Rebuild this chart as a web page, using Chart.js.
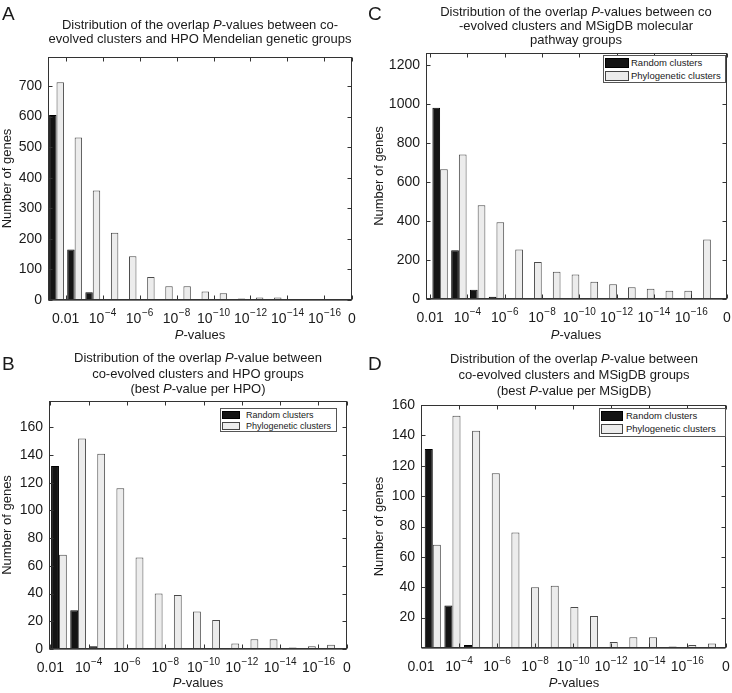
<!DOCTYPE html>
<html><head><meta charset="utf-8">
<script src="https://cdn.jsdelivr.net/npm/chart.js@4.4.1/dist/chart.umd.min.js"></script>
<style>
html,body{margin:0;padding:0;background:#fff;}
body{width:732px;height:693px;position:relative;overflow:hidden;font-family:"Liberation Sans",Arial,sans-serif;color:#1a1a1a;}
canvas{position:absolute;left:0;top:0;}
.t{position:absolute;text-align:center;font-size:13px;line-height:14.5px;white-space:nowrap;width:400px;}
.l{position:absolute;font-size:19px;line-height:19px;}
.xl{position:absolute;font-size:13px;line-height:16px;text-align:center;width:100px;}
.lg{position:absolute;border:1px solid #555;background:#fff;box-sizing:border-box;}
.lg .r{position:absolute;left:0;height:12px;line-height:12px;white-space:nowrap;}
.lg .sw{position:absolute;left:1px;box-sizing:border-box;border:1px solid #444;}
.lg .tx{position:absolute;top:0;}
</style>
</head><body>
<canvas id="cA" width="732" height="693"></canvas>
<canvas id="cB" width="732" height="693"></canvas>
<canvas id="cC" width="732" height="693"></canvas>
<canvas id="cD" width="732" height="693"></canvas>

<div class="l" style="left:2px;top:4px">A</div>
<div class="l" style="left:368px;top:4px">C</div>
<div class="l" style="left:2px;top:354px">B</div>
<div class="l" style="left:368px;top:354px">D</div>

<div class="t" style="left:0px;top:18px;line-height:14px">Distribution of the overlap <i>P</i>-values between co-<br>evolved clusters and HPO Mendelian genetic groups</div>
<div class="t" style="left:376px;top:5px;line-height:14px">Distribution of the overlap <i>P</i>-values between co<br>-evolved clusters and MSigDB molecular<br>pathway groups</div>
<div class="t" style="left:-2px;top:350px;line-height:15.5px">Distribution of the overlap <i>P</i>-value between<br>co-evolved clusters and HPO groups<br>(best <i>P</i>-value per HPO)</div>
<div class="t" style="left:374px;top:351px;line-height:16px">Distribution of the overlap <i>P</i>-value between<br>co-evolved clusters and MSigDB groups<br>(best <i>P</i>-value per MSigDB)</div>

<div class="xl" style="left:150px;top:327px"><i>P</i>-values</div>
<div class="xl" style="left:526px;top:327px"><i>P</i>-values</div>
<div class="xl" style="left:148px;top:675px"><i>P</i>-values</div>
<div class="xl" style="left:524px;top:675px"><i>P</i>-values</div>

<div id="legends"></div>

<script>
// ---- data ----
const seriesNames = ['Random clusters', 'Phylogenetic clusters'];
const tickBase = ['0.01','10','10','10','10','10','10','10','0'];
const tickExp  = ['','\u22124','\u22126','\u22128','\u221210','\u221212','\u221214','\u221216',''];

const binsA   = [0,1,2,3,4,5,6,7,8,9,10,11,12,13,14,15];
const randomA = [605,165,25,3,0,0,0,0,0,0,0,0,0,0,0,0];
const phyloA  = [712,532,358,220,143,75,45,45,28,22,5,8,8,0,3,3];

const binsB   = [0,1,2,3,4,5,6,7,8,9,10,11,12,13,14];
const randomB = [132,28,2,0,0,0,0,0,0,0,0,0,0,0,0];
const phyloB  = [68,152,141,116,66,40,39,27,21,4,7,7,1,2,3];

const binsC   = [0,1,2,3,4,5,6,7,8,9,10,11,12,13,14];
const randomC = [980,250,48,12,0,0,0,0,0,0,0,0,0,0,0];
const phyloC  = [665,740,480,393,253,190,140,125,88,75,60,52,42,42,305];

const binsD   = [0,1,2,3,4,5,6,7,8,9,10,11,12,13,14];
const randomD = [131,28,2,0,0,0,0,0,0,0,0,0,0,0,0];
const phyloD  = [68,153,143,115,76,40,41,27,21,4,7,7,1,2,3];

const yTicksA = [0,100,200,300,400,500,600,700];
const yTicksB = [0,20,40,60,80,100,120,140,160];
const yTicksC = [0,200,400,600,800,1000,1200];
const yTicksD = [20,40,60,80,100,120,140,160];

// ---- axis placement (scale config) ----
const xTickPosA = [0.5,2.54,4.58,6.62,8.66,10.7,12.74,14.78,16.3];
const xTickPosB = [-0.45,1.55,3.55,5.55,7.55,9.55,11.55,13.55,15.04];
const xTickPosC = [-0.53,1.455,3.44,5.425,7.41,9.395,11.38,13.365,15.27];
const xTickPosD = [-0.6,1.335,3.27,5.205,7.14,9.075,11.01,12.945,14.92];

const FONT = '"Liberation Sans", Arial, sans-serif';
const W = 732, H = 693, XH = 30;
const TXT = '#1a1a1a';

const boxPlugin = {
  id: 'box',
  afterDatasetsDraw(chart) {
    const {ctx, chartArea: a, scales: {x, y}} = chart;
    ctx.save();
    ctx.strokeStyle = '#333';
    ctx.lineWidth = 1;
    const l = Math.round(a.left) + 0.5, r = Math.round(a.right) - 0.5;
    const t = Math.round(a.top) + 0.5, b = Math.round(a.bottom) - 0.5;
    ctx.strokeRect(l, t, r - l, b - t);
    ctx.strokeStyle = '#777';
    ctx.beginPath();
    ctx.moveTo(l, b + 1); ctx.lineTo(r, b + 1);
    ctx.stroke();
    ctx.strokeStyle = '#333';
    const L = 4;
    ctx.beginPath();
    x.ticks.forEach(tk => {
      const px = Math.round(x.getPixelForValue(tk.value)) + 0.5;
      ctx.moveTo(px, b); ctx.lineTo(px, b - L);
      ctx.moveTo(px, t); ctx.lineTo(px, t + L);
    });
    y.ticks.forEach(tk => {
      const py = Math.round(y.getPixelForValue(tk.value)) + 0.5;
      ctx.moveTo(l, py); ctx.lineTo(l + L, py);
      ctx.moveTo(r, py); ctx.lineTo(r - L, py);
    });
    ctx.stroke();
    // x tick labels with real superscripts
    ctx.fillStyle = TXT;
    ctx.textBaseline = 'alphabetic';
    ctx.textAlign = 'left';
    x.ticks.forEach((tk, i) => {
      const base = tickBase[i], exp = tickExp[i];
      ctx.font = '14px ' + FONT;
      const wb = ctx.measureText(base).width;
      ctx.font = '10px ' + FONT;
      const we = exp ? ctx.measureText(exp).width + 0.5 : 0;
      const px = x.getPixelForValue(tk.value);
      const sx = px - (wb + we) / 2;
      ctx.font = '14px ' + FONT;
      ctx.fillText(base, sx, a.bottom + 23);
      if (exp) { ctx.font = '10px ' + FONT; ctx.fillText(exp, sx + wb + 0.5, a.bottom + 16); }
    });
    ctx.restore();
  }
};

function makeChart(id, p) {
  return new Chart(document.getElementById(id), {
    type: 'bar',
    data: {
      datasets: [
        { label: seriesNames[0], data: p.bins.map((b, i) => ({x: b, y: p.random[i]})),
          backgroundColor: '#141414', borderColor: '#000', borderWidth: 1, borderSkipped: false,
          categoryPercentage: 0.82, barPercentage: 1 },
        { label: seriesNames[1], data: p.bins.map((b, i) => ({x: b, y: p.phylo[i]})),
          backgroundColor: '#ececec', borderColor: '#4a4a4a', borderWidth: 1, borderSkipped: false,
          categoryPercentage: 0.82, barPercentage: 1 }
      ]
    },
    options: {
      responsive: false, animation: false, devicePixelRatio: 1,
      layout: { padding: { left: p.area.left - p.yw, top: p.area.top, right: W - p.area.right, bottom: H - p.area.bottom - XH } },
      plugins: { legend: { display: false }, tooltip: { enabled: false } },
      scales: {
        x: {
          type: 'linear', min: p.xMin, max: p.xMax, offset: false,
          grid: { display: false, drawTicks: false }, border: { display: false },
          afterBuildTicks: s => { s.ticks = p.xTicks.map(v => ({value: v})); },
          afterFit: s => { s.height = XH; s.paddingLeft = 0; s.paddingRight = 0; },
          ticks: { display: false, autoSkip: false, maxRotation: 0, minRotation: 0 }
        },
        y: {
          min: 0, max: p.yMax,
          grid: { display: false, drawTicks: false }, border: { display: false },
          afterBuildTicks: s => { s.ticks = p.yTicks.map(v => ({value: v})); },
          afterFit: s => { s.width = p.yw; s.paddingTop = 0; s.paddingBottom = 0; },
          ticks: { padding: 6, color: TXT, font: { family: FONT, size: 14 }, callback: v => String(v) },
          title: { display: true, text: 'Number of genes', color: TXT, padding: 0,
                   font: { family: FONT, size: 13 } }
        }
      }
    },
    plugins: [boxPlugin]
  });
}

makeChart('cA', { bins: binsA, random: randomA, phylo: phyloA, yTicks: yTicksA, yMax: 795,
  xTicks: xTickPosA, xMin: -0.47, xMax: 16.3, yw: 48, area: {left: 48, top: 57, right: 352, bottom: 300} });
makeChart('cB', { bins: binsB, random: randomB, phylo: phyloB, yTicks: yTicksB, yMax: 179,
  xTicks: xTickPosB, xMin: -0.52, xMax: 15.04, yw: 49, area: {left: 49, top: 401, right: 347, bottom: 649} });
makeChart('cC', { bins: binsC, random: randomC, phylo: phyloC, yTicks: yTicksC, yMax: 1260,
  xTicks: xTickPosC, xMin: -0.75, xMax: 15.27, yw: 54, area: {left: 426, top: 53, right: 727, bottom: 299} });
makeChart('cD', { bins: binsD, random: randomD, phylo: phyloD, yTicks: yTicksD, yMax: 160,
  xTicks: xTickPosD, xMin: -0.6, xMax: 14.92, yw: 49, area: {left: 421, top: 405, right: 726, bottom: 648} });

// ---- legends (HTML) ----
const legendBoxes = [
  {left: 220, top: 408, width: 117, height: 24, sw: 18, sh: 8, tx: 25, fs: 9},
  {left: 603, top: 55, width: 123, height: 28, sw: 24, sh: 10, tx: 27, fs: 9.5},
  {left: 599, top: 408, width: 127, height: 29, sw: 22, sh: 10, tx: 26, fs: 9.5}
];
const colors = [['#141414','#000'], ['#ececec','#444']];
const host = document.getElementById('legends');
legendBoxes.forEach(bx => {
  const d = document.createElement('div');
  d.className = 'lg';
  Object.assign(d.style, {left: bx.left + 'px', top: bx.top + 'px', width: bx.width + 'px', height: bx.height + 'px', fontSize: bx.fs + 'px'});
  const rowH = (bx.height - 2) / 2;
  seriesNames.forEach((n, i) => {
    const r = document.createElement('div');
    r.className = 'r';
    r.style.top = (i * rowH + (rowH - 12) / 2) + 'px';
    r.innerHTML = '<span class="sw" style="top:' + ((12 - bx.sh) / 2) + 'px;width:' + bx.sw + 'px;height:' + bx.sh +
      'px;background:' + colors[i][0] + ';border-color:' + colors[i][1] + '"></span><span class="tx" style="left:' + bx.tx + 'px">' + n + '</span>';
    d.appendChild(r);
  });
  host.appendChild(d);
});
</script>
</body></html>
